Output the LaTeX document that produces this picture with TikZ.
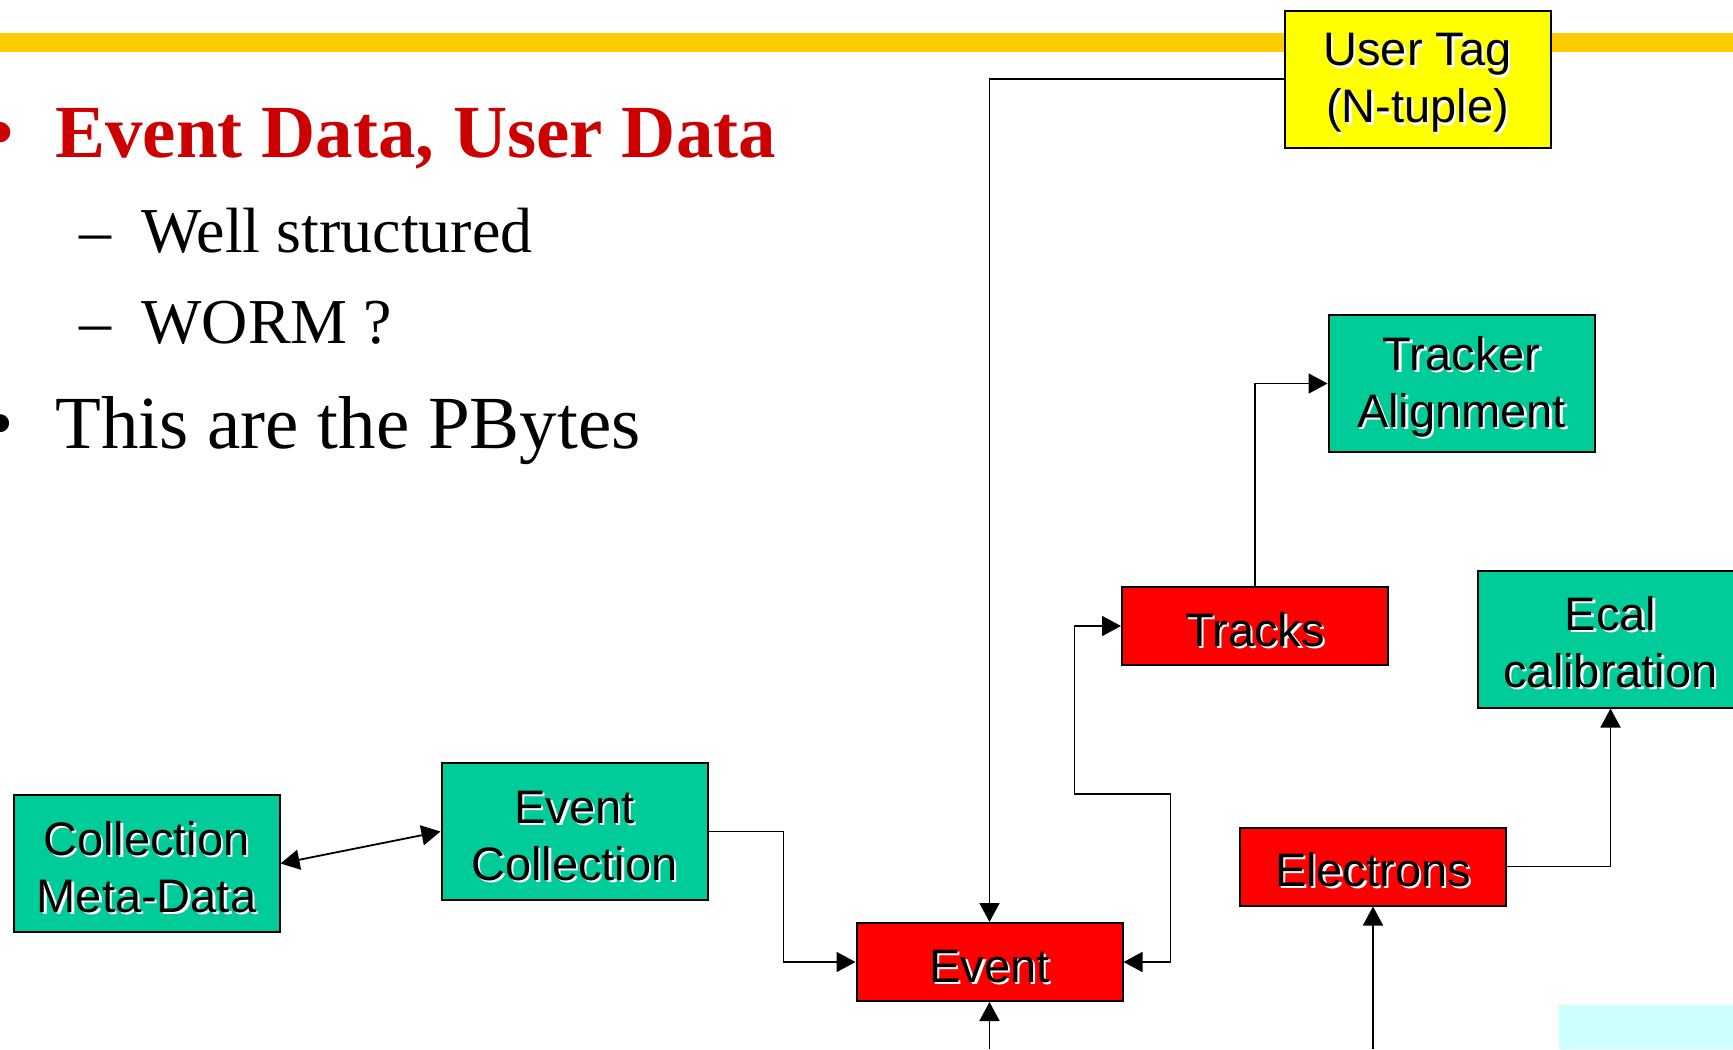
\documentclass[tikz,border=0pt]{standalone}
\usepackage{fontspec}
\setmainfont{Liberation Serif}
\newfontfamily\boxfont{Liberation Sans}
\usetikzlibrary{arrows.meta}

\definecolor{bargold}{HTML}{FFCC00}
\definecolor{titlered}{HTML}{CC0000}
\definecolor{datagreen}{HTML}{00CC99}
\definecolor{objred}{HTML}{FF0000}
\definecolor{tagyellow}{HTML}{FFFF00}
\definecolor{paleblue}{HTML}{CCFFFF}

% black text with a small white drop shadow
\newcommand\shtxt[1]{\makebox[0pt][l]{\hspace{1.2pt}\raisebox{-1.2pt}{\color{white}#1}}#1}
% first line of a box label, pushed down a little
\newcommand\topline[1]{\rule{0pt}{21.5pt}\shtxt{#1}}

\begin{document}
\begin{tikzpicture}[x=0.5pt, y=-0.5pt,
    box/.style={draw=black, line width=1pt, minimum width=133pt, inner sep=0pt,
                align=center, font=\boxfont\fontsize{23.5}{28.5}\selectfont},
    tall/.style={box, minimum height=68.5pt},
    flat/.style={box, minimum height=39pt},
    link/.style={line width=0.9pt, -{Triangle[length=9.5pt,width=10pt]}},
    both/.style={line width=0.9pt, {Triangle[length=9.5pt,width=10pt]}-{Triangle[length=9.5pt,width=10pt]}},
    txt/.style={anchor=base west, inner sep=0pt}]

    \useasboundingbox (0,0) rectangle (1733,1049);

    % Header bar
    \fill[bargold] (0,33) rectangle (1733,52);

    % Bullet text
    \node[txt, text=titlered, font=\bfseries\fontsize{37.5}{45}\selectfont] (dot1) at (-13,157) {\textbullet};
    \node[txt, text=titlered, font=\bfseries\fontsize{37.5}{45}\selectfont] (head) at (55,157) {Event Data, User Data};
    \node[txt, font=\fontsize{32}{38}\selectfont] (dash1) at (79,252) {\textendash};
    \node[txt, font=\fontsize{32}{38}\selectfont] (sub1) at (141,252) {Well structured};
    \node[txt, font=\fontsize{32}{38}\selectfont] (dash2) at (79,343) {\textendash};
    \node[txt, font=\fontsize{32}{38}\selectfont] (sub2) at (141,343) {WORM ?};
    \node[txt, font=\fontsize{37.5}{45}\selectfont] (dot2) at (-13,448) {\textbullet};
    \node[txt, font=\fontsize{37.5}{45}\selectfont] (point2) at (55,448) {This are the PBytes};

    % Data objects
    \node[tall, fill=tagyellow] (usertag) at (1417.5,79) {\topline{User Tag}\\\shtxt{(N-tuple)}};
    \node[tall, fill=datagreen] (tracker) at (1461.5,383.5) {\topline{Tracker}\\\shtxt{Alignment}};
    \node[flat, fill=objred] (tracks) at (1255,626) {\topline{Tracks}};
    \node[tall, fill=datagreen] (ecal) at (1610.5,639) {\topline{Ecal}\\\shtxt{calibration}};
    \node[flat, fill=objred] (electrons) at (1373,866.5) {\topline{Electrons}};
    \node[flat, fill=objred] (event) at (989.5,962) {\topline{Event}};
    \node[tall, fill=datagreen] (evcoll) at (574.5,831.5) {\topline{Event}\\\shtxt{Collection}};
    \node[tall, fill=datagreen] (metadata) at (146.5,863.5) {\topline{Collection}\\\shtxt{Meta-Data}};

    \fill[paleblue] (1559,1005) rectangle (1733,1049);
    \coordinate (floor) at (0,1049);

    % Links
    \draw[link] (usertag.west) -| (event.north);
    \draw[both] (metadata.east) -- (evcoll.west);
    \draw[link] (evcoll.east) -- ++(75,0) |- (event.west);
    \draw[both] (event.east) -- ++(47,0) -- ++(0,-168) -- ++(-96,0) |- (tracks.west);
    \draw[link] (tracks.north) |- (tracker.west);
    \draw[link] (electrons.east) -| (ecal.south);
    \draw[link] (event.south |- floor) -- (event.south);
    \draw[link] (electrons.south |- floor) -- (electrons.south);
\end{tikzpicture}
\end{document}
